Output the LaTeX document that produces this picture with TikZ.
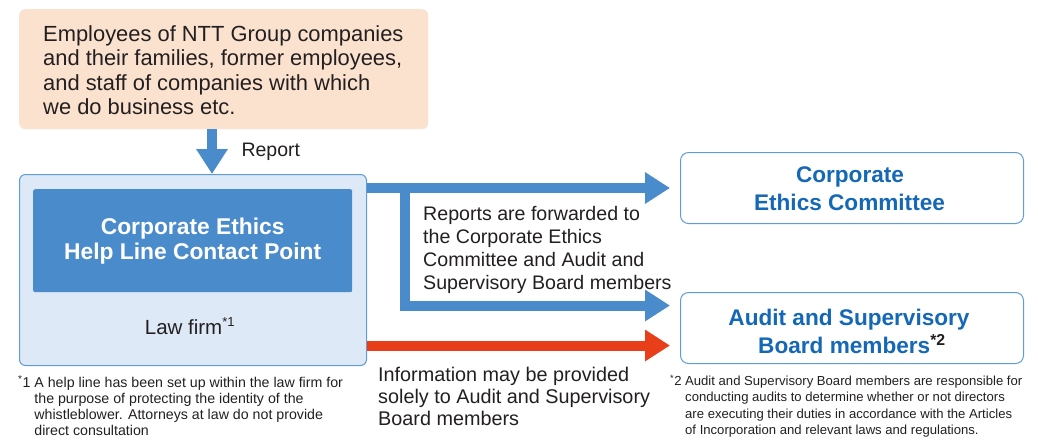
\documentclass[tikz,border=0pt]{standalone}
\usepackage{fontspec}
\setmainfont{Liberation Sans}
\usetikzlibrary{arrows.meta}
\definecolor{peach}{RGB}{251,226,207}
\definecolor{paleblue}{RGB}{221,233,246}
\definecolor{edgeblue}{RGB}{95,156,213}
\definecolor{midblue}{RGB}{74,139,203}
\definecolor{darkblue}{RGB}{20,104,181}
\definecolor{arrowred}{RGB}{232,62,26}
\definecolor{ink}{RGB}{35,31,32}
\begin{document}
\begin{tikzpicture}[x=1pt,y=-1pt]
                \tikzset{box/.style={rounded corners=6pt,inner sep=0pt,anchor=north west},
                fatarrow/.style={line width=10pt,midblue,-{Triangle[length=25pt,width=30pt]}},
                note/.style={anchor=north west,align=left,inner sep=0pt,text=ink}}
                \newcommand\notetext[2]{\fontsize{#1}{#2}\selectfont}
                \useasboundingbox (0,0) rectangle (1038,440);
                % sources
                \node[box,fill=peach,minimum width=409pt,minimum height=120pt] (src) at (19,9) {};
                \node[note,font=\notetext{21.9}{24.6}] (srctext) at (43,25)
                {Employees of NTT Group companies\\and their families, former employees,\\and staff of companies with which\\we do business etc.};
                % law firm
                \node[box,fill=paleblue,draw=edgeblue,line width=1pt,minimum width=347pt,minimum height=191pt] (law) at (19,174) {};
                \node[box,rounded corners=2pt,fill=midblue,minimum width=319pt,minimum height=103pt,text=white,align=center,font=\notetext{22.8}{25}\bfseries] (help) at (33,189)
                {Corporate Ethics\\Help Line Contact Point};
                \node[text=ink,font=\notetext{20.5}{24}] (firm) at (190,326) {Law firm\textsuperscript{\notetext{13}{13}*1}};
                % receivers
                \node[box,rounded corners=8pt,draw=edgeblue,line width=1pt,minimum width=343pt,minimum height=71pt,text=darkblue,align=center,font=\notetext{22.6}{28}\bfseries] (cec) at (680,152)
                {\\[-10pt]Corporate\kern 4pt\\Ethics Committee\kern 5pt};
                \node[box,rounded corners=8pt,draw=edgeblue,line width=1pt,minimum width=343pt,minimum height=71pt,text=darkblue,align=center,font=\notetext{22.6}{28}\bfseries] (asb) at (680,292)
                {\\[-5pt]Audit and Supervisory\kern 6pt\\Board members\textsuperscript{\textcolor{ink}{*2}}};
                % arrows
                \coordinate (branch) at (405,187.5);
                \draw[fatarrow] (src.south -| 212,0) -- (law.north -| 212,0);
                \node[anchor=west,text=ink,font=\notetext{19.5}{24}] (report) at (238,152) {Report};
                \draw[fatarrow] (law.east |- cec.west) -- ([xshift=-10pt]cec.west);
                \draw[fatarrow,line join=miter] ([xshift=-5pt]branch) -| ([yshift=22.5pt]asb.west -| branch) -- ([xshift=-10pt,yshift=22.5pt]asb.west);
                \draw[fatarrow,arrowred] ([yshift=-17.5pt]asb.west -| law.east) -- ([xshift=-10pt,yshift=-17.5pt]asb.west);
                \node[note,font=\notetext{19.6}{22.7}] (fwd) at (423,206.5)
                {Reports are forwarded to\\the Corporate Ethics\\Committee and Audit and\\Supervisory Board members};
                \node[note,font=\notetext{19.8}{22}] (info) at (378,367)
                {Information may be provided\\solely to Audit and Supervisory\\Board members};
                % footnotes
                \node[note,font=\notetext{14.2}{16}] (fn1) at (18,375)
                {\begin{tabular}{@{}l@{ }l@{}}
                \textsuperscript{*}1 & A help line has been set up within the law firm for\\
                & the purpose of protecting the identity of the\\
                & whistleblower. Attorneys at law do not provide\\
                & direct consultation
                \end{tabular}};
                \node[note,font=\notetext{13.1}{16.3}] (fn2) at (670,374)
                {\begin{tabular}{@{}l@{ }l@{}}
                \textsuperscript{*}2 & Audit and Supervisory Board members are responsible for\\
                & conducting audits to determine whether or not directors\\
                & are executing their duties in accordance with the Articles\\
                & of Incorporation and relevant laws and regulations.
                \end{tabular}};
            \end{tikzpicture}
\end{document}
